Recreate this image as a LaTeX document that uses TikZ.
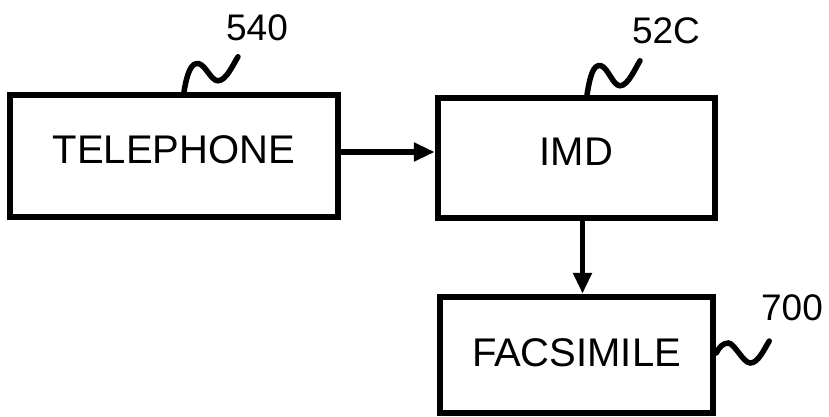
\documentclass[tikz,border=0pt]{standalone}
\usepackage{fontspec}
\setmainfont{Liberation Sans}
\usetikzlibrary{arrows.meta}

\begin{document}
\begin{tikzpicture}[x=1pt, y=-1pt, font=\fontsize{40}{48}\selectfont,
  unit/.style={draw, line width=6.5pt, inner sep=0pt, text depth=12pt},
  arr/.style={line width=5.5pt, -{Triangle[length=21pt,width=18pt]}},
  squig/.style={line width=5.5pt, line cap=round},
  num/.style={font=\fontsize{37}{44}\selectfont}]

\useasboundingbox (0,0) rectangle (829,417);

% ---- Blocks ----
\node[unit, minimum width=328pt, minimum height=122pt] (tel) at (174,156) {TELEPHONE};
\node[unit, minimum width=277pt, minimum height=120pt] (imd) at (576.5,158) {IMD};
\node[unit, minimum width=273pt, minimum height=116pt, text depth=4pt] (fax) at (576.5,355) {FACSIMILE};

% ---- Signal flow ----
\draw[arr] ([yshift=4pt]tel.east) -- ([yshift=4pt]tel.east -| imd.west);
\draw[arr] ([xshift=6pt]imd.south) -- ([xshift=6pt]fax.north);

% ---- Reference numerals ----
\node[num] (n540) at (257,28) {540};
\node[num] (n52c) at (666,31) {52C};
\node[num] (n700) at (792,308) {700};

% ---- Leader squiggles ----
\draw[squig] ([xshift=10pt]tel.north)
  .. controls +(3,-18) and +(-8,-2) .. ++(15,-28)
  .. controls +(7,2) and +(-7,0) .. ++(19,17)
  .. controls +(8,0) and +(-5,8) .. ++(20,-24);
\draw[squig] ([xshift=10.5pt]imd.north)
  .. controls +(3,-18) and +(-8,-2) .. ++(14,-29)
  .. controls +(7,2) and +(-7,0) .. ++(19,20)
  .. controls +(8,0) and +(-5,8) .. ++(20,-25);
\draw[squig] ([yshift=2pt]fax.east)
  .. controls +(3,-6) and +(-5,0) .. ++(12,-10)
  .. controls +(6,0) and +(-7,0) .. ++(22,20)
  .. controls +(8,0) and +(-5,8) .. ++(19,-22);

\end{tikzpicture}
\end{document}
